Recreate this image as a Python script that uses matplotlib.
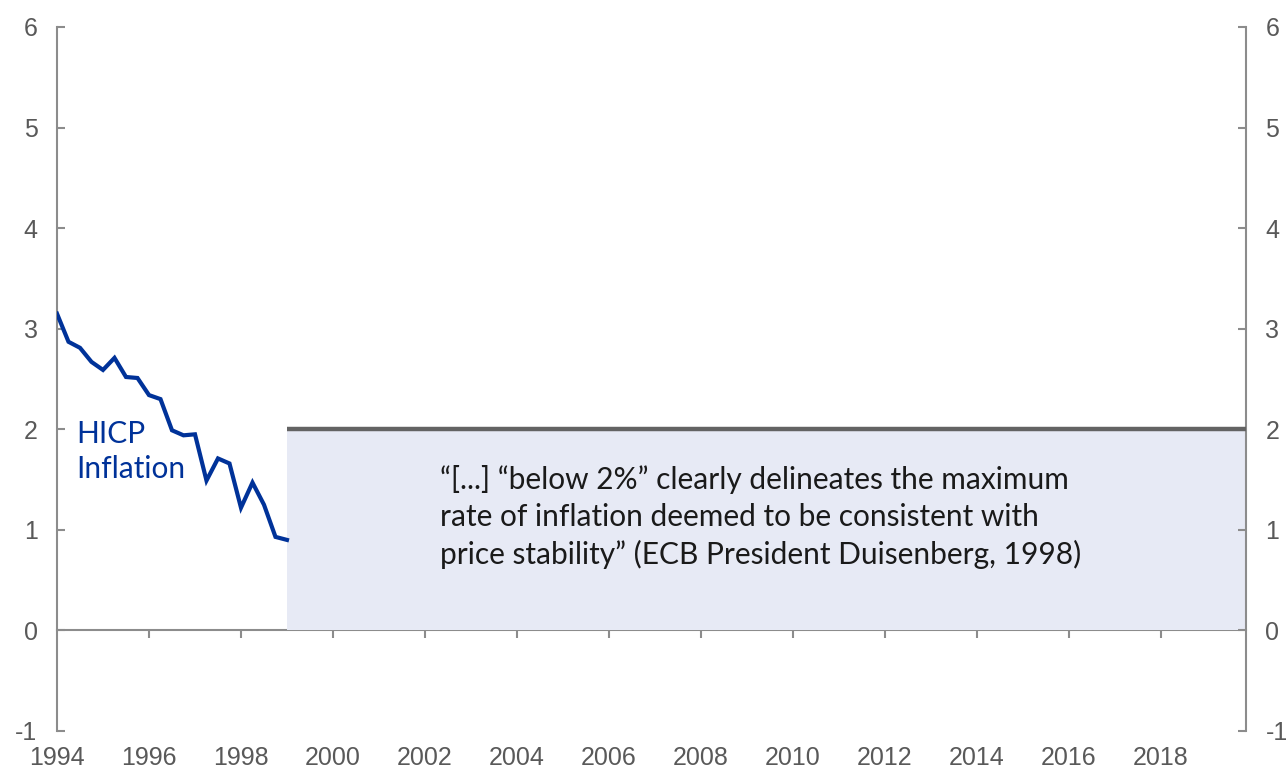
import numpy as np
import matplotlib
matplotlib.use("Agg")
import matplotlib.pyplot as plt

# HICP inflation, quarterly 1994Q1 - 1999Q1
quarters = np.arange(1994, 1999.01, 0.25)
hicp = [3.15, 2.87, 2.81, 2.67, 2.59, 2.71, 2.52, 2.51, 2.34, 2.30, 1.99,
        1.94, 1.95, 1.49, 1.71, 1.66, 1.22, 1.47, 1.25, 0.93, 0.90]

target_years = [1999.0, 2019.85]
target_level = 2.0

year_ticks = list(range(1996, 2019, 2))
year_labels = [str(y) for y in range(1994, 2019, 2)]
y_ticks = [-1, 0, 1, 2, 3, 4, 5, 6]

quote = ("\u201c[...] \u201cbelow 2%\u201d clearly delineates the maximum\n"
         "rate of inflation deemed to be consistent with\n"
         "price stability\u201d (ECB President Duisenberg, 1998)")

axis_grey = "#8c8c8c"
label_grey = "#595959"
ecb_blue = "#003299"

fig = plt.figure(figsize=(12.87, 7.74), dpi=100, facecolor="white")
ax = fig.add_axes([57 / 1287, 1 - 731 / 774, (1246 - 57) / 1287, (731 - 27) / 774])

ax.set_xlim(1994, target_years[1])
ax.set_ylim(-1, 6)

# shaded "below 2%" area and the 2% ceiling
ax.fill_between(target_years, 0, target_level, color="#e7eaf5", lw=0, zorder=1)
ax.plot(target_years, [target_level, target_level], color="#636363", lw=3.2,
        solid_capstyle="butt", zorder=3)

ax.plot(quarters, hicp, color=ecb_blue, lw=3, solid_joinstyle="miter", zorder=4)

ax.text(1994.41, 1.78, "HICP\nInflation", color=ecb_blue, fontsize=21.5,
        family="Lato", linespacing=1.33, va="center", ha="left")
ax.text(2002.32, 1.13, quote, color="#1a1a1a", fontsize=21.5, family="Lato",
        linespacing=1.38, va="center", ha="left")

# spines
for side in ["left", "right"]:
    ax.spines[side].set_color(axis_grey)
    ax.spines[side].set_linewidth(1.5)
ax.spines["top"].set_visible(False)
ax.spines["bottom"].set_visible(False)

# zero line acting as the x axis with downward ticks
zero_axis = ax.secondary_xaxis(1 / 7)
zero_axis.spines["bottom"].set_color(axis_grey)
zero_axis.spines["bottom"].set_linewidth(1.5)
zero_axis.set_xticks(year_ticks)
zero_axis.tick_params(axis="x", direction="out", length=6, width=1.5,
                      color=axis_grey, labelbottom=False)

ax.set_xticks(range(1994, 2019, 2))
ax.set_xticklabels(year_labels)
ax.tick_params(axis="x", length=0, pad=11, labelsize=18, labelcolor=label_grey)

ax.set_yticks(y_ticks)
ax.set_yticklabels([str(v) for v in y_ticks])
ax.tick_params(axis="y", direction="in", length=6, width=1.5, color=axis_grey,
               labelsize=18, labelcolor=label_grey, pad=14,
               left=True, right=True, labelleft=True, labelright=True)

for lab in ax.get_xticklabels() + ax.get_yticklabels():
    lab.set_family("Liberation Sans")

fig.savefig("out.png", dpi=100, facecolor="white")
